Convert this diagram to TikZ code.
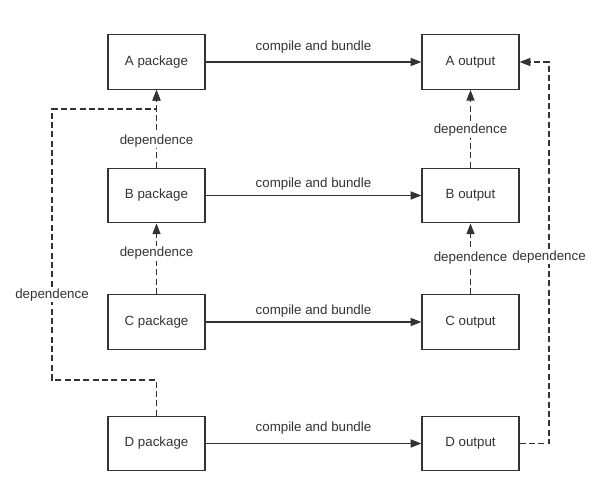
\documentclass[tikz,border=0pt]{standalone}
\usepackage{fontspec}
\setmainfont{Liberation Sans}
\usetikzlibrary{arrows.meta}
\definecolor{ink}{HTML}{333333}
\begin{document}
\begin{tikzpicture}[x=0.75pt,y=-0.75pt,
  box/.style={draw=ink, line width=0.9pt, minimum width=72.75pt, minimum height=41pt, inner sep=0pt, font=\fontsize{10}{12}\selectfont, text=ink},
  flow/.style={draw=ink, line width=0.9pt, -{Triangle[length=8pt,width=6pt]}},
  dep/.style={flow, dash pattern=on 4.5pt off 2.5pt},
  lab/.style={font=\fontsize{10}{12}\selectfont, text=ink},
  deplab/.style={lab, fill=white, inner sep=1pt}]
\useasboundingbox (0,0) rectangle (600,495);

\node[box] (Apkg) at (156.5,62) {A package};
\node[box] (Bpkg) at (156.5,195.5) {B package};
\node[box] (Cpkg) at (156.5,322) {C package};
\node[box] (Dpkg) at (156.5,443.5) {D package};
\node[box] (Aout) at (470.5,62) {A output};
\node[box] (Bout) at (470.5,195.5) {B output};
\node[box] (Cout) at (470.5,322) {C output};
\node[box] (Dout) at (470.5,443.5) {D output};

\draw[flow] (Apkg) -- node[lab, yshift=11.5pt] (la) {compile and bundle} (Aout);
\draw[flow] (Bpkg) -- node[lab, yshift=8.8pt] (lb) {compile and bundle} (Bout);
\draw[flow] (Cpkg) -- node[lab, yshift=8.5pt] (lc) {compile and bundle} (Cout);
\draw[flow] (Dpkg) -- node[lab, yshift=11.5pt] (ld) {compile and bundle} (Dout);

\draw[dep] (Bpkg) -- node[deplab, pos=0.345] (d1) {dependence} (Apkg);
\draw[dep] (Cpkg) -- node[deplab, pos=0.58] (d2) {dependence} (Bpkg);
\draw[dep] (Bout) -- node[deplab, pos=0.48] (d3) {dependence} (Aout);
\draw[dep] (Cout) -- node[deplab, pos=0.51] (d4) {dependence} (Bout);

\coordinate (lbot) at (52,380);
\coordinate (ltop) at (52,109);
\draw[dep] (Dpkg.north) |- (lbot) -- node[deplab, pos=0.314] (d5) {dependence} (ltop) -| (Apkg.south);

\coordinate (rbot) at (549,443.5);
\coordinate (rtop) at (549,62);
\draw[dep] (Dout.east) -- (rbot) -- node[deplab, pos=0.489] (d6) {dependence} (rtop) -- (Aout.east);
\end{tikzpicture}
\end{document}
